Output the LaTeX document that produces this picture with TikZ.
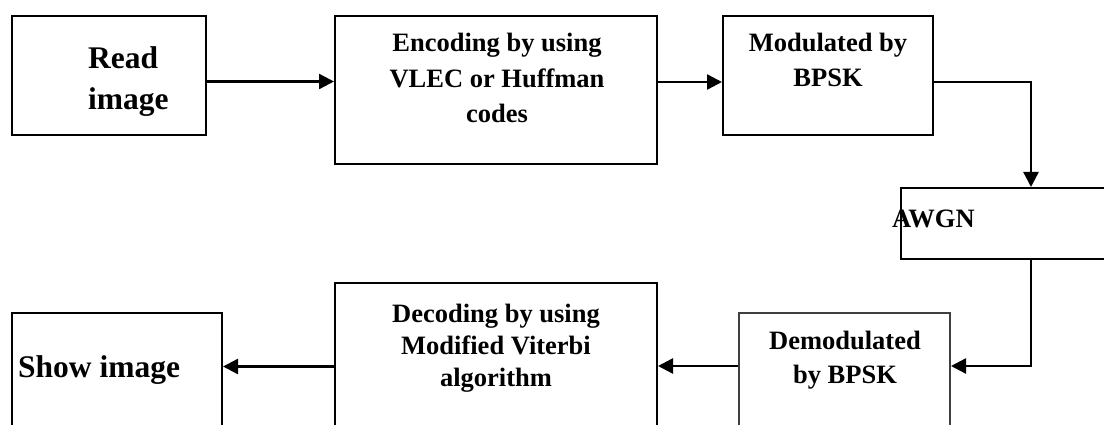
\documentclass[tikz,border=0pt]{standalone}
\usepackage{fontspec}
\setmainfont{Liberation Serif}
\usetikzlibrary{arrows.meta}
\begin{document}
\begin{tikzpicture}[x=1pt,y=-1pt,
  box/.style={draw=black, line width=2pt, inner sep=0pt, rectangle},
  arr/.style={line width=2.4pt, -{Triangle[length=15pt,width=15pt]}},
  txt/.style={inner sep=0pt, anchor=base, font=\fontsize{26.5}{30}\selectfont\bfseries},
  bigtxt/.style={inner sep=0pt, anchor=base west, font=\fontsize{31.5}{36}\selectfont\bfseries}]
\useasboundingbox (0,0) rectangle (1104,425);
\clip (0,0) rectangle (1104,425);
% boxes
\node[box, minimum width=194.3pt, minimum height=119pt] (read) at (108.85,75.5) {};
\node[box, minimum width=322pt, minimum height=148pt] (enc) at (496,90) {};
\node[box, minimum width=210pt, minimum height=119pt] (mod) at (828,75.5) {};
\node[box, minimum width=219pt, minimum height=71pt] (awgn) at (1010.5,223.5) {};
\node[box, draw=black!75, minimum width=211pt, minimum height=127pt] (demod) at (844.5,376.5) {};
\node[box, minimum width=322pt, minimum height=157pt] (dec) at (496,361.5) {};
\node[box, minimum width=210.3pt, minimum height=127pt] (show) at (116.85,376.5) {};
% texts
\node[bigtxt] (read1) at (88,69) {Read};
\node[bigtxt] (read2) at (88,110) {image};
\node[txt] (enc1) at (497,52) {Encoding by using};
\node[txt] (enc2) at (497,88) {VLEC or Huffman};
\node[txt] (enc3) at (497,123) {codes};
\node[txt] (mod1) at (828,52) {Modulated by};
\node[txt] (mod2) at (828,87) {BPSK};
\node[txt, anchor=base west] (awgn1) at (892,228) {AWGN};
\node[txt] (dem1) at (845,349) {Demodulated};
\node[txt] (dem2) at (845,383) {by BPSK};
\node[txt] (dec1) at (496,322) {Decoding by using};
\node[txt] (dec2) at (496,354) {Modified Viterbi};
\node[txt] (dec3) at (496,386) {algorithm};
\node[bigtxt] (show1) at (18,377) {Show image};
% connectors
\draw[arr] ([yshift=-6pt]read.east) -- ([yshift=-6pt]read.east -| enc.west);
\draw[arr] ([yshift=-6.5pt]mod.west -| enc.east) -- ([yshift=-6.5pt]mod.west);
\draw[arr] ([yshift=-6.5pt]mod.east) -| ([xshift=20.5pt]awgn.north);
\draw[arr] ([xshift=20.5pt]awgn.south) |- ([yshift=10.5pt]demod.east);
\draw[arr] ([yshift=10.5pt]demod.west) -- ([yshift=10.5pt]demod.west -| dec.east);
\draw[arr] ([yshift=-5pt]dec.west) -- ([yshift=-5pt]dec.west -| show.east);
\end{tikzpicture}
\end{document}
